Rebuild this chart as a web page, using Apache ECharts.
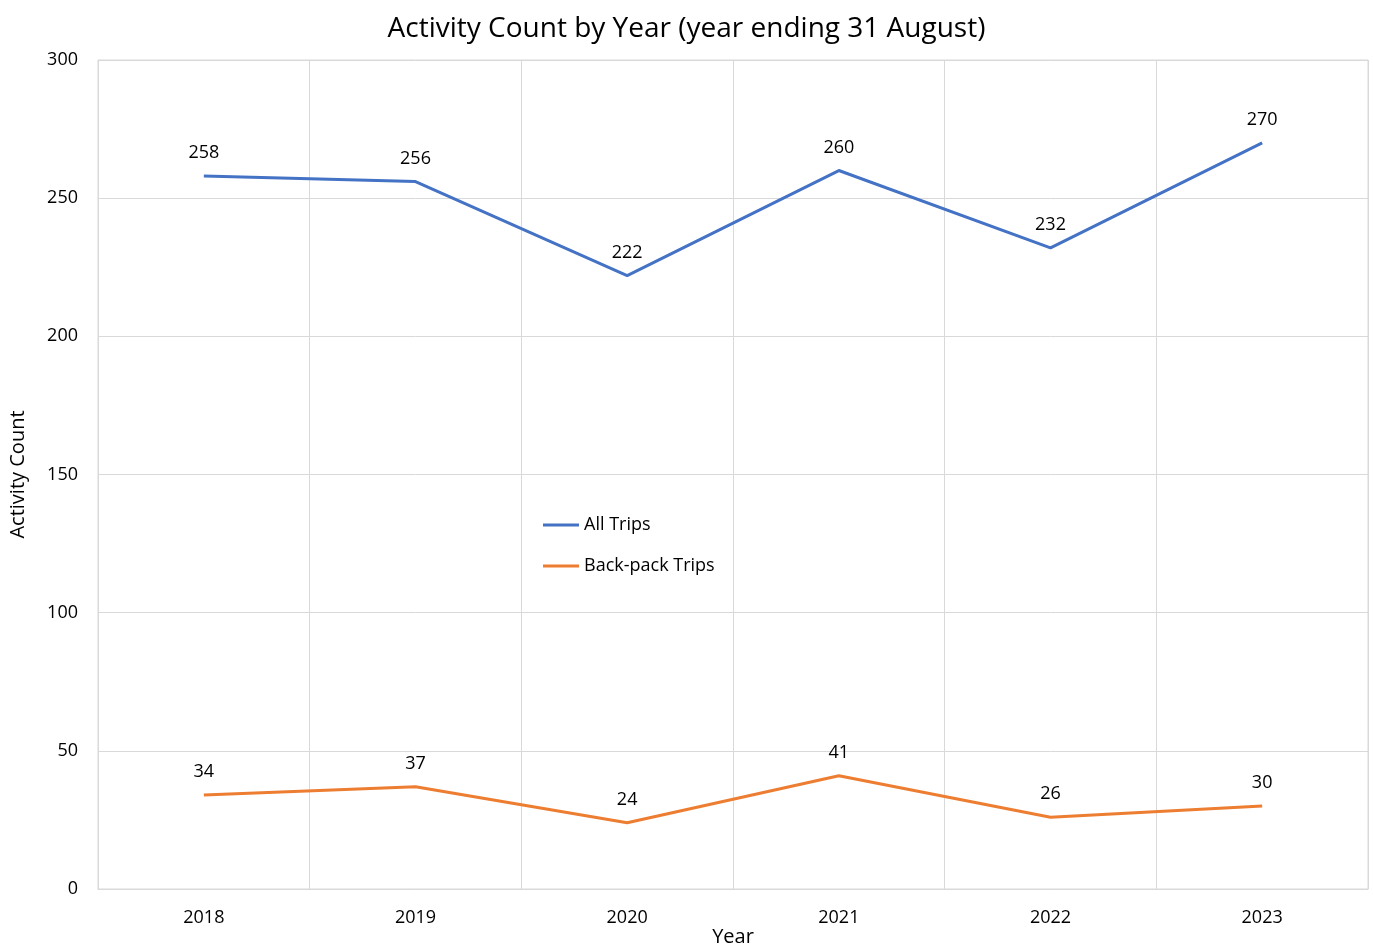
<!DOCTYPE html>
<html>
<head>
<meta charset="utf-8">
<title>Activity Count by Year</title>
<script src="https://cdn.jsdelivr.net/npm/echarts@6/dist/echarts.min.js"></script>
<style>
  html, body { margin: 0; padding: 0; background: #fff; }
  #chart { width: 1373px; height: 947px; }
</style>
</head>
<body>
<div id="chart"></div>
<script>
// 数据
const years = ['2018', '2019', '2020', '2021', '2022', '2023'];
const allTrips = [258, 256, 222, 260, 232, 270];
const backpackTrips = [34, 37, 24, 41, 26, 30];

const font = "'Open Sans', 'Liberation Sans', sans-serif";
const chart = echarts.init(document.getElementById('chart'));

// 数据标签样式
const labelStyle = {
  show: true,
  position: 'top',
  distance: 14,
  fontFamily: font,
  fontSize: 18,
  color: '#000'
};

const option = {
  backgroundColor: '#fff',
  textStyle: { fontFamily: font },
  title: {
    text: 'Activity Count by Year (year ending 31 August)',
    left: 'center',
    top: 10,
    textStyle: { fontFamily: font, fontSize: 28, fontWeight: 'normal', color: '#000' }
  },
  // 图例放在图中间
  legend: {
    orient: 'vertical',
    left: 538,
    top: 511,
    itemGap: 23,
    itemWidth: 36,
    itemHeight: 3,
    icon: 'rect',
    textStyle: { fontFamily: font, fontSize: 18, color: '#000' },
    data: ['All Trips', 'Back-pack Trips']
  },
  grid: {
    left: 98,
    right: 5,
    top: 60,
    bottom: 58,
    outerBoundsMode: 'none',
    containLabel: false,
    show: true,
    borderColor: '#d9d9d9',
    borderWidth: 1
  },
  xAxis: {
    type: 'category',
    data: years,
    boundaryGap: true,
    name: 'Year',
    nameLocation: 'middle',
    nameGap: 38,
    nameMoveOverlap: false,
    nameTextStyle: { fontFamily: font, fontSize: 20, color: '#000' },
    axisLine: { lineStyle: { color: '#d9d9d9' } },
    axisTick: { show: false },
    axisLabel: { fontFamily: font, fontSize: 18, color: '#000', margin: 20 },
    splitLine: { show: true, lineStyle: { color: '#d9d9d9' } }
  },
  yAxis: {
    type: 'value',
    min: 0,
    max: 300,
    interval: 50,
    name: 'Activity Count',
    nameLocation: 'middle',
    nameGap: 70,
    nameTextStyle: { fontFamily: font, fontSize: 20, color: '#000' },
    axisLine: { show: false },
    axisTick: { show: false },
    axisLabel: { fontFamily: font, fontSize: 18, color: '#000', margin: 20 },
    splitLine: { lineStyle: { color: '#d9d9d9' } }
  },
  series: [
    {
      name: 'All Trips',
      type: 'line',
      data: allTrips,
      symbol: 'circle',
      symbolSize: 0,
      showSymbol: true,
      itemStyle: { color: '#4472c4' },
      lineStyle: { width: 3, color: '#4472c4' },
      label: labelStyle
    },
    {
      name: 'Back-pack Trips',
      type: 'line',
      data: backpackTrips,
      symbol: 'circle',
      symbolSize: 0,
      showSymbol: true,
      itemStyle: { color: '#ed7d31' },
      lineStyle: { width: 3, color: '#ed7d31' },
      label: labelStyle
    }
  ]
};
chart.setOption(option);
</script>
</body>
</html>
